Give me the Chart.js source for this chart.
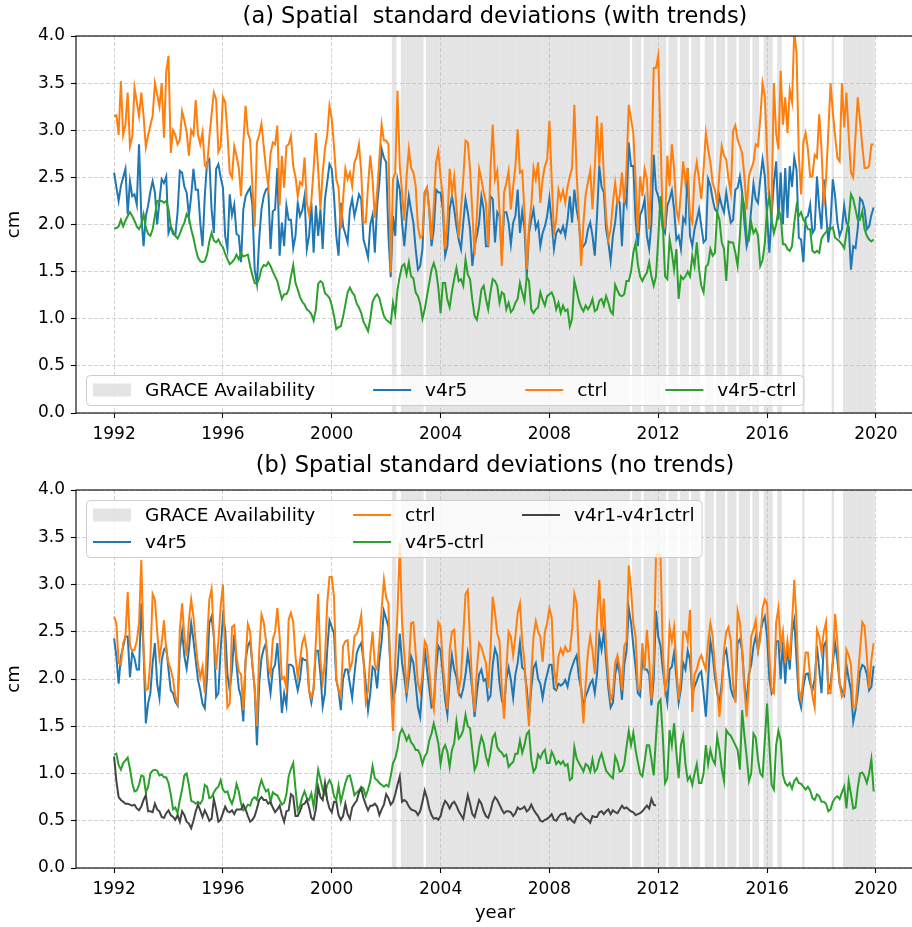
<!DOCTYPE html>
<html>
<head>
<meta charset="utf-8">
<script src="https://cdn.jsdelivr.net/npm/chart.js@4.4.0/dist/chart.umd.min.js"></script>
<style>
  html, body { margin: 0; padding: 0; background: #fff; overflow: hidden; }
  #chartA { position: absolute; left: 0; top: 0; }
  #chartB { position: absolute; left: 0; top: 452px; }
</style>
</head>
<body>
<canvas id="chartA" width="916" height="452"></canvas>
<canvas id="chartB" width="916" height="475"></canvas>
<script>
// monthly values, Jan 1992 .. Dec 2019
var startYear = 1992;
var yearTicks = [1992, 1996, 2000, 2004, 2008, 2012, 2016, 2020];
var cmTicks = [0, 0.5, 1, 1.5, 2, 2.5, 3, 3.5, 4];

// (a) with trends
var v4r5A = [
  2.55,2.40,2.25,2.41,2.50,2.59,2.11,2.46,2.30,2.32,2.21,2.85,
  2.09,1.77,2.09,2.20,2.35,2.46,2.34,2.00,2.25,2.48,2.44,2.51,
  1.91,1.98,1.90,1.88,2.13,2.57,2.55,2.40,2.34,2.09,2.30,2.59,
  2.37,2.37,2.02,1.77,2.30,2.66,2.69,2.16,1.91,2.59,2.64,2.50,
  2.39,1.88,1.74,2.32,2.10,2.21,1.90,1.88,1.60,2.16,2.30,2.35,
  2.39,2.20,1.52,1.37,1.85,2.16,2.30,2.37,2.39,1.74,2.14,2.16,
  2.60,1.67,2.02,1.77,2.20,2.05,2.05,1.75,1.88,2.23,2.09,2.15,
  2.30,1.74,1.88,2.23,1.70,2.20,1.88,2.16,1.74,2.27,2.45,2.64,
  2.59,2.30,1.88,1.67,2.23,1.98,1.90,1.81,2.16,2.27,2.09,2.20,
  2.32,2.27,1.84,1.75,1.65,2.00,2.10,1.70,2.20,2.45,2.80,2.71,
  2.66,1.88,1.44,2.09,1.88,2.48,2.37,2.02,1.77,2.07,2.30,2.15,
  2.02,1.74,1.52,1.56,1.74,2.34,2.39,2.16,1.77,1.95,2.37,2.34,
  2.34,2.16,1.67,1.77,2.16,2.30,2.16,1.98,1.84,1.74,2.02,2.27,
  2.13,1.95,1.56,1.77,1.88,2.02,2.30,2.16,1.77,1.77,2.30,2.27,
  1.81,2.13,2.09,1.67,2.13,2.13,2.02,1.79,2.02,2.09,2.37,1.91,
  2.14,1.96,1.45,1.91,2.05,2.16,1.96,2.02,1.77,1.91,1.98,2.09,
  2.28,2.02,1.74,1.91,1.95,1.91,1.98,1.88,2.05,2.30,2.02,2.37,
  2.16,2.02,1.74,1.77,1.81,1.95,2.02,1.88,1.67,2.09,2.62,2.40,
  2.34,1.95,1.81,1.61,1.88,2.02,2.27,2.23,1.77,2.30,2.21,2.87,
  2.62,2.62,2.05,1.77,2.10,2.16,2.27,1.88,1.74,2.02,2.74,2.37,
  2.30,2.16,1.95,1.91,2.20,2.27,2.36,2.16,1.84,1.88,1.74,2.07,
  2.02,2.60,1.88,1.77,1.95,2.05,2.16,1.98,1.81,1.84,2.48,2.41,
  2.27,2.16,2.13,2.30,2.20,2.13,2.34,2.16,2.02,2.05,2.37,2.39,
  2.51,2.34,2.02,1.77,1.88,2.16,2.43,2.27,2.23,2.48,2.69,2.51,
  2.09,1.70,2.10,2.44,2.67,2.05,2.55,2.00,2.60,2.07,2.62,2.40,
  2.71,2.58,1.86,1.84,1.60,2.07,2.09,2.21,1.91,1.95,2.51,2.18,
  1.95,2.48,2.13,1.81,2.02,2.48,2.30,2.02,1.88,1.95,2.20,2.02,
  1.98,1.52,1.77,1.75,1.96,2.28,2.25,2.16,1.95,1.98,2.10,2.18
];
var ctrlA = [
  3.15,3.16,2.95,3.52,2.95,3.06,3.40,2.83,2.93,3.45,3.30,3.15,
  3.40,3.15,2.82,2.95,3.05,3.15,3.50,3.38,3.25,3.50,2.92,3.62,
  3.79,2.76,3.00,2.95,2.85,2.90,3.20,3.10,2.98,2.73,3.00,2.95,
  3.32,2.95,2.85,2.98,2.63,2.60,2.92,3.17,3.40,3.33,2.77,2.83,
  3.35,3.30,2.97,2.55,2.50,2.83,2.73,2.60,2.30,2.87,3.26,2.97,
  2.90,2.40,1.98,2.87,2.95,3.07,2.83,2.59,2.41,2.75,2.87,2.85,
  3.05,2.20,2.73,2.39,2.83,2.85,2.94,2.62,2.51,2.30,2.45,2.42,
  2.71,2.23,2.10,2.25,2.59,2.97,2.59,2.16,2.55,2.80,2.95,3.26,
  3.12,2.83,2.48,2.39,1.95,2.27,2.59,2.48,2.55,2.41,2.66,2.72,
  2.85,2.55,2.02,2.02,2.41,2.73,2.48,2.07,2.34,2.70,3.06,2.89,
  2.89,2.85,1.49,2.48,2.55,3.42,2.62,2.34,2.04,2.51,2.80,2.60,
  2.55,2.41,1.98,1.86,1.88,2.34,2.39,2.16,1.84,2.20,2.66,2.78,
  2.50,2.30,1.74,2.02,2.59,2.34,2.51,2.18,1.86,2.16,2.48,2.89,
  2.87,2.59,2.13,1.68,2.09,2.59,2.48,2.34,2.23,1.77,2.59,3.06,
  2.48,2.57,2.13,1.56,2.34,2.44,2.57,2.16,2.40,2.62,3.01,2.55,
  2.57,2.13,1.52,1.98,2.20,2.60,2.48,2.66,2.23,2.48,2.62,2.69,
  3.10,2.48,1.91,2.05,2.37,2.27,2.36,2.23,2.40,2.51,2.60,3.27,
  2.55,2.07,1.56,2.02,2.32,2.45,2.57,2.16,2.60,3.15,2.62,3.08,
  2.51,2.09,1.84,1.95,2.23,2.44,2.23,2.30,2.55,2.23,2.60,3.27,
  3.12,2.97,2.48,1.91,2.51,2.30,2.59,2.48,1.95,2.59,3.66,3.66,
  3.79,2.94,1.98,1.98,2.73,2.41,2.85,2.59,2.16,2.05,2.34,2.67,
  2.44,2.60,2.09,2.02,2.51,2.66,2.48,2.27,2.59,2.97,2.80,2.66,
  2.44,2.37,2.21,2.55,2.83,2.73,2.69,2.48,2.34,2.99,3.05,2.90,
  2.83,2.76,2.51,2.16,2.51,2.59,2.66,2.85,2.83,3.12,3.50,3.36,
  2.76,2.27,2.18,3.50,2.96,2.80,3.63,3.06,3.35,2.97,3.43,3.30,
  4.05,3.82,2.73,2.32,2.87,2.97,2.80,2.51,2.51,2.74,2.71,3.17,
  2.80,2.21,2.48,2.97,3.50,3.19,2.94,2.71,2.67,3.50,3.03,3.40,
  2.94,2.55,2.50,2.94,3.35,3.10,2.83,2.60,2.60,2.62,2.85,2.85
];
var diffA = [
  1.96,1.96,1.98,2.05,1.98,2.04,2.09,2.13,2.09,2.04,1.98,1.95,
  2.00,2.11,1.97,1.90,1.88,1.95,2.09,2.25,2.25,2.25,2.23,2.25,
  2.16,1.98,1.93,1.88,1.85,1.90,1.97,2.02,2.11,2.07,1.95,1.86,
  1.74,1.65,1.61,1.60,1.61,1.68,1.82,1.91,1.83,1.81,1.84,1.79,
  1.76,1.69,1.63,1.58,1.60,1.63,1.68,1.63,1.70,1.66,1.67,1.68,
  1.56,1.46,1.38,1.37,1.43,1.53,1.57,1.56,1.60,1.56,1.50,1.45,
  1.40,1.30,1.21,1.26,1.26,1.31,1.45,1.57,1.38,1.31,1.23,1.18,
  1.15,1.10,1.08,1.05,0.98,1.10,1.37,1.40,1.38,1.27,1.25,1.22,
  1.14,1.03,0.89,0.91,0.92,1.02,1.15,1.28,1.33,1.28,1.25,1.16,
  1.12,1.06,0.97,0.92,0.87,1.00,1.18,1.23,1.26,1.22,1.12,1.03,
  0.99,0.97,0.95,1.17,1.05,1.31,1.45,1.56,1.58,1.47,1.60,1.45,
  1.43,1.28,1.24,1.16,1.00,1.10,1.24,1.38,1.52,1.59,1.51,1.33,
  1.06,1.38,1.38,1.20,1.12,1.29,1.42,1.54,1.40,1.42,1.35,1.63,
  1.47,1.42,1.20,1.03,0.99,1.12,1.31,1.35,1.21,1.10,1.28,1.42,
  1.40,1.35,1.17,1.28,1.26,1.10,1.17,1.07,1.10,1.17,1.21,1.38,
  1.28,1.19,1.45,1.40,1.10,1.06,1.10,1.12,1.28,1.20,1.14,1.24,
  1.26,1.28,1.22,1.10,1.17,1.06,1.14,1.08,1.10,0.92,1.00,1.40,
  1.30,1.19,1.12,1.08,1.14,1.10,1.14,1.21,1.08,1.10,1.19,1.21,
  1.14,1.24,1.17,1.08,1.05,1.36,1.30,1.25,1.24,1.26,1.40,1.40,
  1.50,1.70,1.80,1.58,1.45,1.40,1.45,1.49,1.60,1.45,1.35,1.45,
  1.85,2.30,2.02,1.45,1.42,1.84,1.70,1.52,1.74,1.21,1.45,1.42,
  1.45,1.50,1.45,1.67,1.56,1.81,1.52,1.35,1.28,1.55,1.58,1.74,
  1.67,1.70,2.13,2.05,1.81,1.74,1.40,1.82,1.81,1.81,1.70,1.56,
  1.88,2.30,2.20,1.88,1.84,2.02,1.91,1.95,1.88,1.56,1.62,1.80,
  2.16,2.30,2.05,1.91,2.00,2.15,2.10,1.79,1.79,1.74,1.72,1.77,
  2.02,2.20,2.09,2.13,2.05,2.02,1.95,1.95,1.72,1.70,1.72,1.70,
  1.85,1.89,1.92,1.96,1.95,1.97,1.86,1.84,1.82,1.79,1.75,1.91,
  2.04,2.32,2.27,2.16,2.05,2.05,2.14,1.95,1.88,1.84,1.82,1.84
];

// (b) no trends
var v4r5B = [
  2.43,2.24,1.95,2.24,2.34,2.45,2.45,2.02,2.28,2.22,2.10,2.10,
  2.80,2.30,1.53,1.74,1.85,2.17,2.38,1.95,1.80,2.20,2.31,2.34,
  2.10,1.88,1.85,1.76,1.72,2.31,2.50,2.24,2.11,2.31,2.59,2.41,
  2.20,1.99,1.88,1.74,1.69,2.02,2.59,2.66,2.45,1.81,1.85,2.31,
  2.66,2.52,2.04,1.88,2.10,2.47,2.15,1.90,1.81,1.55,2.20,2.35,
  2.40,2.15,1.90,1.30,1.95,2.22,2.32,2.38,2.02,1.85,2.10,2.15,
  2.38,2.05,1.64,1.85,1.72,2.15,2.15,2.13,2.00,1.88,2.00,2.22,
  2.20,2.20,1.88,1.75,1.90,2.30,2.30,2.05,1.71,1.85,2.31,2.62,
  2.55,2.48,1.99,1.88,1.67,2.00,2.10,2.10,1.95,1.80,2.05,2.27,
  2.34,2.38,2.20,1.95,1.67,1.85,2.13,2.10,1.90,2.20,2.40,2.72,
  2.64,2.55,2.05,1.80,1.88,2.10,2.48,2.17,2.02,1.82,2.02,2.24,
  2.17,1.95,1.70,1.60,1.95,2.33,2.10,1.90,1.70,1.72,2.10,2.35,
  2.30,2.05,1.78,1.62,2.00,2.25,2.10,2.02,1.85,1.81,1.90,2.05,
  2.27,2.10,1.88,1.60,1.85,2.05,2.10,1.98,2.00,1.78,1.82,2.15,
  2.32,2.25,1.95,1.78,1.70,2.00,2.12,1.99,1.80,2.05,2.17,2.38,
  2.12,2.10,1.90,1.60,1.90,2.12,2.17,2.00,1.95,1.80,1.95,2.05,
  2.15,2.15,1.90,1.88,1.95,1.93,1.95,1.99,1.92,2.05,2.13,2.20,
  2.25,2.02,1.90,1.71,1.82,1.88,1.95,1.99,1.85,2.05,2.45,2.31,
  2.50,2.20,1.90,1.70,1.75,2.05,2.17,2.05,1.78,2.15,2.30,2.75,
  2.60,2.35,2.13,1.85,1.82,2.22,2.10,2.10,2.05,1.72,2.00,2.72,
  2.45,2.35,2.10,1.92,1.75,2.10,2.13,2.28,2.02,1.75,1.90,2.17,
  2.10,2.30,2.20,1.85,1.92,1.98,2.05,2.08,1.85,1.60,2.00,2.40,
  2.25,2.02,1.85,1.74,1.95,2.25,2.31,2.10,1.90,1.82,1.78,2.38,
  2.42,2.30,1.95,1.74,2.05,2.15,2.35,2.45,2.30,2.48,2.60,2.66,
  2.45,2.00,1.85,1.90,2.40,2.40,2.00,2.40,1.95,2.35,2.10,2.50,
  2.62,2.20,1.80,1.70,1.92,2.05,2.06,1.95,1.88,2.00,2.35,2.10,
  1.85,2.35,2.40,1.88,1.95,2.17,2.38,2.20,1.95,1.88,1.83,2.15,
  2.00,1.88,1.55,1.67,1.85,2.08,2.15,2.13,2.05,1.88,1.92,2.14
];
var ctrlB = [
  2.66,2.59,2.17,2.15,2.38,2.45,2.92,2.35,2.30,2.31,2.40,2.59,
  3.26,2.30,1.88,1.90,2.20,2.90,2.84,2.50,2.22,2.38,2.62,2.30,
  2.17,2.10,2.00,1.81,1.74,2.52,2.80,2.45,2.24,2.62,2.84,2.66,
  2.38,2.15,2.02,2.13,1.85,2.40,2.84,2.95,2.45,2.10,2.40,2.77,
  3.00,2.20,1.70,1.74,2.55,2.57,2.24,2.08,2.05,1.67,2.20,2.58,
  2.50,2.15,1.90,1.50,2.30,2.68,2.60,2.40,2.13,2.05,2.42,2.50,
  2.75,2.45,2.00,2.02,1.90,2.63,2.70,2.60,2.24,2.02,2.20,2.38,
  2.45,2.30,1.88,1.80,1.90,2.40,2.90,2.20,1.97,2.20,2.80,3.08,
  3.08,2.87,2.00,1.88,1.81,2.35,2.40,2.41,2.10,2.18,2.45,2.48,
  2.55,2.68,2.20,1.76,1.88,2.25,2.50,2.15,2.10,2.40,2.74,3.05,
  2.86,2.80,1.95,1.45,2.20,2.70,3.44,2.60,2.27,1.85,2.15,2.59,
  2.60,2.28,1.95,1.86,2.05,2.40,2.35,2.10,1.80,1.68,2.24,2.60,
  2.55,2.15,1.90,1.68,2.30,2.50,2.52,2.15,1.88,2.02,2.45,2.90,
  2.94,2.40,1.90,1.65,2.10,2.38,2.34,2.25,2.17,1.90,2.30,2.87,
  2.70,2.48,2.40,1.90,1.58,2.10,2.50,2.45,2.25,2.45,2.70,2.80,
  2.40,2.18,1.80,1.50,2.05,2.45,2.61,2.50,2.45,2.18,2.50,2.59,
  2.75,2.65,2.10,1.95,2.24,2.32,2.26,2.34,2.29,2.30,2.52,2.90,
  2.80,2.25,1.90,1.53,1.95,2.28,2.45,2.30,2.05,2.65,3.05,2.50,
  2.85,2.35,2.02,1.78,1.85,2.17,2.25,2.12,1.88,2.35,2.40,3.20,
  2.95,2.59,2.45,1.90,1.90,2.38,2.10,2.52,2.20,1.78,2.20,3.30,
  3.33,3.30,2.30,1.88,2.00,2.55,2.40,2.55,2.15,1.78,2.02,2.50,
  2.50,2.40,2.73,1.65,2.05,2.10,2.20,2.25,2.17,2.10,2.40,2.59,
  2.45,2.12,1.90,1.60,1.88,2.30,2.50,2.55,2.40,1.95,1.75,2.72,
  2.60,2.30,1.90,1.60,1.95,2.45,2.52,2.62,2.30,2.42,2.75,2.84,
  2.80,2.25,1.88,1.85,2.60,2.75,2.35,2.50,2.17,2.40,2.20,2.59,
  3.05,2.60,1.90,1.78,2.02,2.28,2.28,2.02,1.82,1.70,2.52,2.45,
  2.28,2.50,2.60,1.85,1.85,2.20,2.69,2.40,1.95,1.81,1.85,2.31,
  2.25,2.15,1.70,1.70,2.00,2.31,2.60,2.56,2.24,1.90,2.20,2.38
];
var diffB = [
  1.20,1.21,1.09,1.04,1.11,1.14,1.17,1.05,0.90,0.81,0.82,0.88,
  0.98,0.97,0.80,0.86,1.00,1.03,1.04,1.03,0.98,0.99,0.96,0.96,
  0.90,0.78,0.62,0.64,0.58,0.72,0.83,0.98,1.00,0.88,0.71,0.70,
  0.68,0.70,0.68,0.72,0.88,0.86,0.74,0.75,0.80,0.84,0.86,0.93,
  0.83,0.80,0.81,0.73,0.68,0.76,0.89,0.81,0.68,0.61,0.63,0.67,
  0.66,0.73,0.75,0.72,0.85,0.93,0.86,0.81,0.83,0.70,0.80,0.78,
  0.77,0.72,0.67,0.69,0.78,0.97,1.05,1.11,0.84,0.61,0.66,0.75,
  0.81,0.74,0.72,0.79,0.65,0.83,1.04,0.94,0.83,0.78,0.88,0.93,
  0.88,0.76,0.72,0.87,0.70,0.80,0.90,0.97,0.98,0.88,0.77,0.80,
  0.82,0.86,0.84,0.76,0.83,0.92,1.08,0.95,0.93,0.90,0.88,0.86,
  0.88,0.86,0.97,1.11,1.16,1.26,1.42,1.47,1.42,1.35,1.40,1.33,
  1.30,1.25,1.25,1.20,1.10,1.18,1.22,1.35,1.42,1.53,1.43,1.32,
  1.10,1.25,1.30,1.23,1.07,1.25,1.32,1.55,1.37,1.40,1.46,1.62,
  1.50,1.48,1.25,1.04,1.10,1.28,1.39,1.32,1.18,1.10,1.22,1.38,
  1.42,1.28,1.24,1.22,1.18,1.20,1.07,1.10,1.12,1.21,1.21,1.35,
  1.22,1.30,1.42,1.45,1.15,1.02,1.06,1.20,1.16,1.22,1.25,1.11,
  1.11,1.23,1.18,1.10,1.13,1.10,1.13,1.08,1.10,0.93,0.95,1.28,
  1.16,1.11,1.07,1.02,1.10,1.08,1.02,1.15,1.02,1.05,1.15,1.21,
  1.12,1.03,1.00,0.97,0.95,1.18,1.12,1.02,1.03,1.10,1.28,1.45,
  1.30,1.43,1.25,1.12,1.00,0.97,1.13,1.30,1.30,1.15,0.98,1.38,
  1.74,1.78,1.40,0.90,0.95,1.46,1.30,1.53,1.22,0.95,1.30,1.40,
  1.10,0.93,0.97,0.88,1.00,1.10,0.90,0.90,1.00,1.30,1.10,1.25,
  1.15,1.10,1.39,1.25,1.05,0.92,1.46,1.42,1.40,1.35,1.30,1.25,
  1.04,1.67,1.40,1.18,0.92,1.00,1.42,1.38,1.15,1.00,0.97,1.35,
  1.74,1.30,0.88,0.83,1.30,1.45,1.35,0.98,0.90,0.87,0.90,0.84,
  0.92,0.95,0.90,0.89,0.86,0.83,0.86,0.82,0.74,0.72,0.78,0.76,
  0.70,0.70,0.68,0.60,0.62,0.70,0.74,0.76,0.73,0.80,0.86,0.63,
  0.92,0.78,0.63,0.64,0.85,1.00,1.01,0.97,0.90,1.00,1.15,0.81
];
// v4r1 run stops after 2011
var v4r1B = [
  1.18,0.92,0.75,0.72,0.70,0.68,0.68,0.67,0.66,0.67,0.63,0.61,
  0.65,0.72,0.77,0.60,0.60,0.59,0.68,0.62,0.60,0.54,0.53,0.58,
  0.61,0.56,0.54,0.51,0.56,0.49,0.60,0.56,0.49,0.47,0.42,0.50,
  0.60,0.67,0.61,0.54,0.61,0.56,0.50,0.52,0.73,0.62,0.49,0.51,
  0.58,0.65,0.60,0.59,0.61,0.57,0.62,0.62,0.62,0.67,0.62,0.55,
  0.49,0.51,0.55,0.63,0.72,0.75,0.72,0.72,0.68,0.70,0.64,0.59,
  0.62,0.66,0.56,0.49,0.60,0.61,0.78,0.76,0.55,0.55,0.60,0.67,
  0.68,0.72,0.64,0.53,0.51,0.62,0.86,0.75,0.72,0.90,0.72,0.63,
  0.59,0.70,0.70,0.56,0.51,0.55,0.68,0.57,0.52,0.64,0.68,0.71,
  0.80,0.84,0.74,0.67,0.61,0.66,0.66,0.68,0.65,0.56,0.62,0.67,
  0.78,0.74,0.67,0.70,0.78,0.88,0.97,0.70,0.72,0.70,0.65,0.62,
  0.61,0.60,0.56,0.60,0.70,0.82,0.74,0.63,0.56,0.52,0.53,0.51,
  0.55,0.65,0.71,0.68,0.63,0.68,0.70,0.66,0.60,0.56,0.52,0.65,
  0.77,0.68,0.57,0.54,0.63,0.72,0.68,0.60,0.55,0.53,0.60,0.70,
  0.75,0.72,0.67,0.62,0.58,0.60,0.60,0.59,0.55,0.58,0.64,0.62,
  0.63,0.65,0.60,0.62,0.67,0.62,0.58,0.55,0.50,0.49,0.51,0.52,
  0.54,0.57,0.51,0.50,0.54,0.57,0.57,0.58,0.51,0.53,0.50,0.48,
  0.54,0.56,0.58,0.55,0.52,0.51,0.48,0.55,0.54,0.54,0.59,0.60,
  0.57,0.60,0.62,0.57,0.61,0.59,0.58,0.62,0.66,0.63,0.64,0.62,
  0.60,0.59,0.56,0.57,0.58,0.60,0.63,0.66,0.63,0.73,0.67,0.66
];

// months with GRACE data (inclusive ranges)
var graceRanges = [
  ['2002-04','2002-05'], ['2002-08','2003-05'], ['2003-07','2010-12'],
  ['2011-02','2011-05'], ['2011-07','2012-04'], ['2012-06','2012-09'],
  ['2012-11','2013-02'], ['2013-04','2013-07'], ['2013-10','2014-01'],
  ['2014-03','2014-06'], ['2014-08','2014-11'], ['2015-01','2015-05'],
  ['2015-07','2015-09'], ['2015-12','2016-03'], ['2016-06','2016-07'],
  ['2017-05','2017-05'], ['2018-06','2018-06'], ['2018-11','2019-12']
];

function toXY(vals) {
  return vals.map(function (v, i) { return {x: startYear + i / 12, y: v}; });
}
function monthValue(s) {
  var p = s.split('-');
  return +p[0] + (+p[1] - 1) / 12;
}
var graceMonths = [];
graceRanges.forEach(function (r) {
  for (var t = monthValue(r[0]); t <= monthValue(r[1]) + 1e-6; t += 1 / 12) graceMonths.push(t);
});

var FONT = '"DejaVu Sans", sans-serif';
var SHADE = 'rgba(190,190,190,0.42)';

var graceShade = {
  id: 'graceShade',
  beforeDraw: function (chart) {
    var ctx = chart.ctx, a = chart.chartArea, x = chart.scales.x;
    ctx.save();
    ctx.fillStyle = '#fff';
    ctx.fillRect(0, 0, chart.width, chart.height);
    ctx.beginPath();
    ctx.rect(a.left, a.top, a.right - a.left, a.bottom - a.top);
    ctx.clip();
    ctx.fillStyle = SHADE;
    graceMonths.forEach(function (t) {
      var x0 = x.getPixelForValue(t - 1 / 24), x1 = x.getPixelForValue(t + 1 / 24);
      ctx.fillRect(x0, a.top, x1 - x0, a.bottom - a.top);
    });
    ctx.restore();
  },
  afterDraw: function (chart) {
    var ctx = chart.ctx, a = chart.chartArea;
    ctx.save();
    ctx.strokeStyle = '#000';
    ctx.lineWidth = 1.1;
    ctx.strokeRect(a.left, a.top, a.right - a.left, a.bottom - a.top);
    ctx.restore();
  }
};

// legend drawn inside the axes, like the matplotlib one
var boxLegend = {
  id: 'boxLegend',
  afterDraw: function (chart, args, opts) {
    var ctx = chart.ctx, a = chart.chartArea;
    var labels = opts.labels, ncol = opts.ncol;
    var nrow = Math.ceil(labels.length / ncol);
    var handle = 38, tpad = 14, cspace = opts.colSpacing, rowGap = 27, padX = 7, padY = 15;
    ctx.save();
    ctx.font = '18.5px ' + FONT;
    var colW = [];
    for (var c = 0; c < ncol; c++) {
      var w = 0;
      for (var r = 0; r < nrow; r++) {
        var lab = labels[c * nrow + r];
        if (lab) w = Math.max(w, ctx.measureText(lab).width);
      }
      colW.push(handle + tpad + w);
    }
    var boxW = padX * 2 + colW.reduce(function (s, v) { return s + v; }, 0) + cspace * (ncol - 1);
    var boxH = padY * 2 + rowGap * (nrow - 1);
    var left = a.left + opts.dx;
    var top = opts.anchor === 'top' ? a.top + opts.dy : a.bottom - opts.dy - boxH;
    ctx.fillStyle = 'rgba(255,255,255,0.8)';
    ctx.strokeStyle = '#cccccc';
    ctx.lineWidth = 1;
    ctx.beginPath();
    ctx.roundRect(left + 0.5, top + 0.5, boxW, boxH, 4);
    ctx.fill();
    ctx.stroke();
    var cx = left + padX;
    for (c = 0; c < ncol; c++) {
      for (r = 0; r < nrow; r++) {
        lab = labels[c * nrow + r];
        if (!lab) continue;
        var cy = top + padY + r * rowGap;
        var ds = chart.data.datasets.find(function (d) { return d.label === lab; });
        if (ds) {
          ctx.strokeStyle = ds.borderColor;
          ctx.lineWidth = 2;
          ctx.beginPath();
          ctx.moveTo(cx, cy);
          ctx.lineTo(cx + handle, cy);
          ctx.stroke();
        } else {
          ctx.fillStyle = SHADE;
          ctx.fillRect(cx, cy - 6.5, handle, 13);
        }
        ctx.fillStyle = '#000';
        ctx.textBaseline = 'middle';
        ctx.fillText(lab, cx + handle + tpad, cy + 1);
      }
      cx += colW[c] + cspace;
    }
    ctx.restore();
  }
};

function lineSet(label, vals, color, order) {
  return {label: label, data: toXY(vals), borderColor: color, backgroundColor: color,
    borderWidth: 2, pointRadius: 0, tension: 0, order: order};
}

function makeOptions(title, titlePad, xHeight, showXTitle, legendOpts) {
  return {
    responsive: false,
    animation: false,
    layout: {padding: {left: 0, right: 2, top: 0, bottom: 0}},
    plugins: {
      legend: {display: false},
      tooltip: {enabled: false},
      title: {display: true, text: title, color: '#000', fullSize: false,
        font: {family: FONT, size: 22.5, weight: 'normal'}, padding: titlePad},
      boxLegend: legendOpts
    },
    scales: {
      x: {
        type: 'linear', min: 1990.6, max: 2021.4,
        afterBuildTicks: function (s) { s.ticks = yearTicks.map(function (v) { return {value: v}; }); },
        afterFit: function (s) { s.height = xHeight; },
        ticks: {color: '#000', font: {family: FONT, size: 17}, padding: 6,
          callback: function (v) { return String(v); }, maxRotation: 0},
        grid: {color: 'rgba(176,176,176,0.55)', lineWidth: 1, tickLength: 5, tickColor: '#000', tickWidth: 1.1},
        border: {display: false, dash: [4, 2]},
        title: {display: showXTitle, text: 'year', color: '#000',
          font: {family: FONT, size: 18}, padding: {top: 0, bottom: 3}}
      },
      y: {
        min: 0, max: 4,
        afterBuildTicks: function (s) { s.ticks = cmTicks.map(function (v) { return {value: v}; }); },
        afterFit: function (s) { s.width = 76; },
        ticks: {color: '#000', font: {family: FONT, size: 17}, padding: 6,
          callback: function (v) { return v.toFixed(1); }},
        grid: {color: 'rgba(176,176,176,0.55)', lineWidth: 1, tickLength: 5, tickColor: '#000', tickWidth: 1.1},
        border: {display: false, dash: [4, 2]},
        title: {display: true, text: 'cm', color: '#000',
          font: {family: FONT, size: 18}, padding: {top: 4, bottom: 0}}
      }
    }
  };
}

new Chart(document.getElementById('chartA'), {
  type: 'line',
  data: {datasets: [
    lineSet('v4r5', v4r5A, '#1f77b4', 4),
    lineSet('ctrl', ctrlA, '#ff7f0e', 3),
    lineSet('v4r5-ctrl', diffA, '#2ca02c', 2)
  ]},
  options: makeOptions('(a) Spatial  standard deviations (with trends)', {top: 4, bottom: 5}, 39, false,
    {labels: ['GRACE Availability', 'v4r5', 'ctrl', 'v4r5-ctrl'], ncol: 4, colSpacing: 58, anchor: 'bottom', dx: 10, dy: 8}),
  plugins: [graceShade, boxLegend]
});

new Chart(document.getElementById('chartB'), {
  type: 'line',
  data: {datasets: [
    lineSet('v4r5', v4r5B, '#1f77b4', 4),
    lineSet('ctrl', ctrlB, '#ff7f0e', 3),
    lineSet('v4r5-ctrl', diffB, '#2ca02c', 2),
    lineSet('v4r1-v4r1ctrl', v4r1B, '#444444', 1)
  ]},
  options: makeOptions('(b) Spatial standard deviations (no trends)', {top: 1, bottom: 10}, 59, true,
    {labels: ['GRACE Availability', 'v4r5', 'ctrl', 'v4r5-ctrl', 'v4r1-v4r1ctrl'], ncol: 3, colSpacing: 38, anchor: 'top', dx: 10, dy: 10}),
  plugins: [graceShade, boxLegend]
});
</script>
</body>
</html>
